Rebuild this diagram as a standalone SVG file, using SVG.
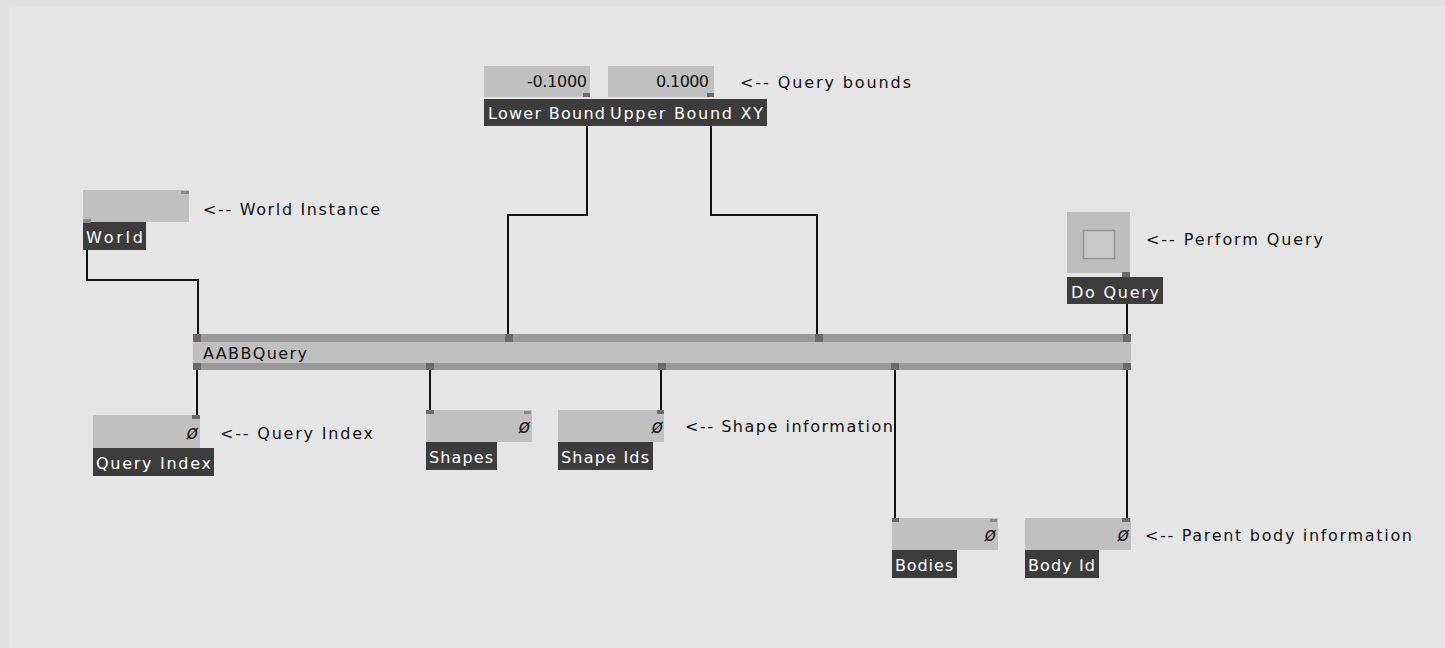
<svg xmlns="http://www.w3.org/2000/svg" width="1445" height="648" viewBox="0 0 1445 648">
<style>
.box{fill:#c0c0c0}
.lbl{fill:#3c3c3c}
.tab{fill:#6a6a6a}
.tabl{fill:#8a8a8a}
.wt{fill:#ffffff;font-family:"DejaVu Sans",sans-serif;font-size:16px}
.bt{fill:#111111;font-family:"DejaVu Sans",sans-serif;font-size:16px}
.num{fill:#111111;font-family:"DejaVu Sans",sans-serif;font-size:16px;text-anchor:end}
.nul{fill:#222222;font-family:"DejaVu Sans",sans-serif;font-size:19px;font-style:italic;text-anchor:end}
.wire{fill:none;stroke:#111111;stroke-width:2}
</style>
<rect x="0" y="0" width="1445" height="648" fill="#e0e0e0"/>
<rect x="9" y="6" width="1436" height="642" fill="#e5e5e5"/>

<g id="connectors">
<polyline class="wire" points="587,125 587,215 508,215 508,334"/>
<polyline class="wire" points="711,125 711,215 817,215 817,334"/>
<polyline class="wire" points="87,250 87,280 198,280 198,334"/>
<polyline class="wire" points="1127,304 1127,334"/>
<polyline class="wire" points="197,370 197,415"/>
<polyline class="wire" points="430,370 430,410"/>
<polyline class="wire" points="661,370 661,410"/>
<polyline class="wire" points="895,370 895,518"/>
<polyline class="wire" points="1127,370 1127,518"/>
</g>

<g id="lower-bound">
<rect class="box" x="484" y="66" width="106" height="31"/>
<rect class="tab" x="583" y="93" width="7" height="4"/>
<text class="num" x="587" y="87" textLength="60" lengthAdjust="spacing">-0.1000</text>
<rect class="lbl" x="484" y="99" width="124" height="27"/>
<text class="wt" x="488" y="119" textLength="117" lengthAdjust="spacing">Lower Bound</text>
</g>

<g id="upper-bound">
<rect class="box" x="608" y="66" width="106" height="31"/>
<rect class="tab" x="707" y="93" width="7" height="4"/>
<text class="num" x="709" y="87" textLength="53" lengthAdjust="spacing">0.1000</text>
<rect class="lbl" x="607" y="99" width="160" height="27"/>
<text class="wt" x="610" y="119" textLength="153" lengthAdjust="spacing">Upper Bound XY</text>
</g>
<text class="bt" x="740" y="88" textLength="171" lengthAdjust="spacing">&lt;-- Query bounds</text>

<g id="world">
<rect class="box" x="83" y="190" width="106" height="32"/>
<rect class="tabl" x="181" y="191" width="8" height="3"/>
<rect class="lbl" x="83" y="222" width="63" height="28"/>
<rect class="tabl" x="83" y="219" width="8" height="4"/>
<text class="wt" x="86" y="243" textLength="57" lengthAdjust="spacing">World</text>
</g>
<text class="bt" x="203" y="215" textLength="177" lengthAdjust="spacing">&lt;-- World Instance</text>

<g id="do-query">
<rect x="1067" y="212" width="63" height="61" fill="#bdbdbd"/>
<rect x="1083.5" y="230.5" width="31" height="28" fill="#c9c9c9" stroke="#949494" stroke-width="1.5"/>
<rect class="tab" x="1122" y="272" width="8" height="5"/>
<rect class="lbl" x="1067" y="277" width="96" height="27"/>
<text class="wt" x="1071" y="298" textLength="88" lengthAdjust="spacing">Do Query</text>
</g>
<text class="bt" x="1146" y="245" textLength="177" lengthAdjust="spacing">&lt;-- Perform Query</text>

<g id="aabbquery">
<rect x="193" y="334" width="938" height="8" fill="#999999"/>
<rect x="193" y="342" width="938" height="21" fill="#c0c0c0"/>
<rect x="193" y="363" width="938" height="7" fill="#999999"/>
<rect class="tab" x="193" y="334" width="8" height="8"/>
<rect class="tab" x="505" y="334" width="8" height="8"/>
<rect class="tab" x="815" y="334" width="8" height="8"/>
<rect class="tab" x="1123" y="334" width="8" height="8"/>
<rect class="tab" x="193" y="363" width="8" height="7"/>
<rect class="tab" x="426" y="363" width="8" height="7"/>
<rect class="tab" x="658" y="363" width="8" height="7"/>
<rect class="tab" x="891" y="363" width="8" height="7"/>
<rect class="tab" x="1123" y="363" width="8" height="7"/>
<text class="bt" x="203" y="359" textLength="104" lengthAdjust="spacing">AABBQuery</text>
</g>

<g id="query-index">
<rect class="box" x="93" y="415" width="107" height="33"/>
<rect class="tab" x="192" y="415" width="8" height="4"/>
<text class="nul" x="198" y="439">ø</text>
<rect class="lbl" x="93" y="448" width="121" height="28"/>
<text class="wt" x="96" y="469" textLength="115" lengthAdjust="spacing">Query Index</text>
</g>
<text class="bt" x="220" y="439" textLength="153" lengthAdjust="spacing">&lt;-- Query Index</text>

<g id="shapes">
<rect class="box" x="426" y="410" width="106" height="32"/>
<rect class="tab" x="426" y="410" width="8" height="4"/>
<rect class="tabl" x="524" y="411" width="7" height="3"/>
<text class="nul" x="530" y="433">ø</text>
<rect class="lbl" x="426" y="442" width="71" height="28"/>
<text class="wt" x="429" y="463" textLength="64" lengthAdjust="spacing">Shapes</text>
</g>

<g id="shape-ids">
<rect class="box" x="558" y="410" width="106" height="32"/>
<rect class="tab" x="657" y="410" width="7" height="4"/>
<text class="nul" x="663" y="433">ø</text>
<rect class="lbl" x="558" y="442" width="95" height="28"/>
<text class="wt" x="561" y="463" textLength="88" lengthAdjust="spacing">Shape Ids</text>
</g>
<rect x="683" y="411" width="210" height="27" fill="#e5e5e5"/>
<text class="bt" x="685" y="432" textLength="208" lengthAdjust="spacing">&lt;-- Shape information</text>

<g id="bodies">
<rect class="box" x="892" y="518" width="106" height="32"/>
<rect class="tab" x="892" y="518" width="7" height="4"/>
<rect class="tabl" x="990" y="519" width="7" height="3"/>
<text class="nul" x="996" y="541">ø</text>
<rect class="lbl" x="892" y="550" width="65" height="28"/>
<text class="wt" x="895" y="571" textLength="58" lengthAdjust="spacing">Bodies</text>
</g>

<g id="body-id">
<rect class="box" x="1025" y="518" width="106" height="32"/>
<rect class="tab" x="1122" y="518" width="8" height="4"/>
<text class="nul" x="1129" y="541">ø</text>
<rect class="lbl" x="1025" y="550" width="74" height="28"/>
<text class="wt" x="1028" y="571" textLength="67" lengthAdjust="spacing">Body Id</text>
</g>
<text class="bt" x="1145" y="541" textLength="267" lengthAdjust="spacing">&lt;-- Parent body information</text>
</svg>
